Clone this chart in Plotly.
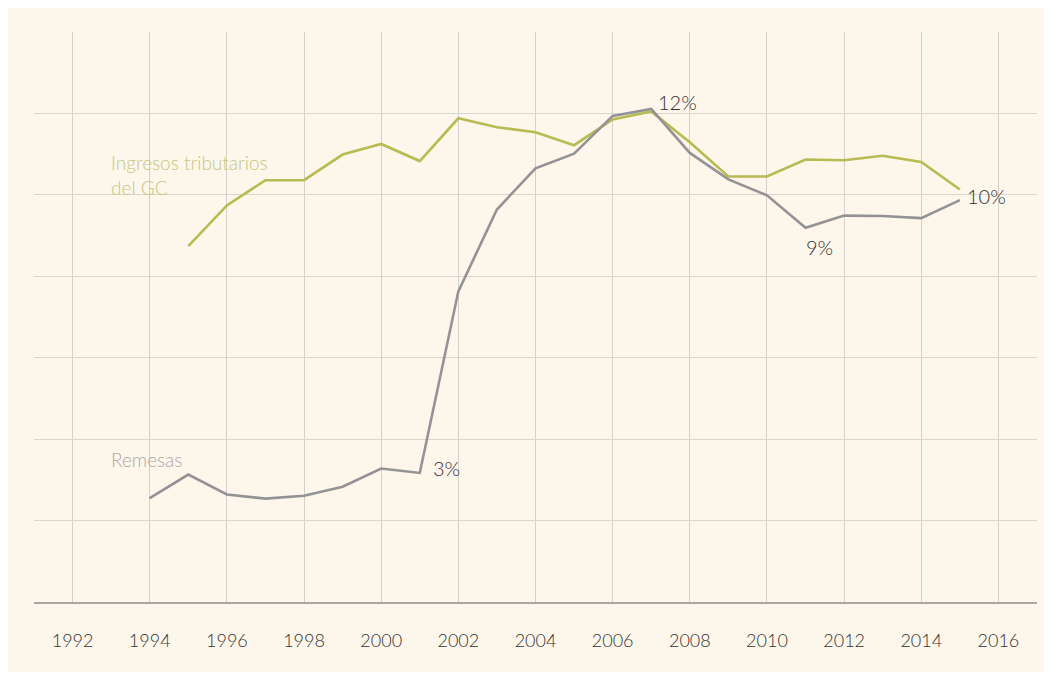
import plotly.graph_objects as go

# data (% of GDP)
years_rem = list(range(1994, 2016))
remesas = [2.55, 3.13, 2.64, 2.54, 2.61, 2.83, 3.28, 3.17, 7.63, 9.64, 10.65,
           11.01, 11.94, 12.11, 11.03, 10.38, 9.99, 9.19, 9.49, 9.48, 9.43, 9.87]

years_ing = list(range(1995, 2016))
ingresos = [8.74, 9.74, 10.36, 10.36, 10.99, 11.25, 10.83, 11.88, 11.66, 11.54,
            11.22, 11.85, 12.05, 11.29, 10.45, 10.45, 10.87, 10.85, 10.96, 10.81, 10.13]

tick_years = list(range(1992, 2017, 2))
grid_y = [2, 4, 6, 8, 10, 12]

bg = "#fdf6eb"
olive = "#b8bb52"
gray = "#939396"
txt = "#333333"
font_fam = "Lato, 'Open Sans', sans-serif"

fig = go.Figure()

fig.add_trace(go.Scatter(x=years_ing, y=ingresos, mode="lines",
                         line=dict(color=olive, width=2.6),
                         name="Ingresos tributarios del GC", hoverinfo="x+y"))
fig.add_trace(go.Scatter(x=years_rem, y=remesas, mode="lines",
                         line=dict(color=gray, width=2.6),
                         name="Remesas", hoverinfo="x+y"))

# series labels
fig.add_annotation(x=1992.94, y=10.5, text="Ingresos tributarios<br>del GC",
                   showarrow=False, xanchor="left", yanchor="middle", align="left",
                   font=dict(family=font_fam, size=19, color="#c6c77e", weight=300))
fig.add_annotation(x=1992.94, y=3.51, text="Remesas",
                   showarrow=False, xanchor="left", yanchor="middle",
                   font=dict(family=font_fam, size=19, color="#a9a9aa", weight=300))

# value labels
for xv, yv, t in [(2007.68, 12.27, "12%"), (2015.69, 9.96, "10%"),
                  (2011.36, 8.71, "9%"), (2001.7, 3.29, "3%")]:
    fig.add_annotation(x=xv, y=yv, text=t, showarrow=False,
                       xanchor="center", yanchor="middle",
                       font=dict(family=font_fam, size=20, color=txt, weight=300))

fig.update_xaxes(range=[1991, 2017], tickvals=tick_years,
                 showgrid=True, gridcolor="#d3d1cc", gridwidth=1,
                 showline=True, linecolor="#a8a7a4", linewidth=1.5,
                 zeroline=False, ticks="", ticklabelstandoff=22,
                 tickfont=dict(family=font_fam, size=18, color=txt, weight=300))
fig.update_yaxes(range=[0, 14], tickvals=grid_y, showticklabels=False,
                 showgrid=True, gridcolor="#d9d6d0", gridwidth=1.2,
                 zeroline=False, showline=False)

fig.update_layout(width=1044, height=664,
                  margin=dict(l=26, r=15, t=24, b=70),
                  paper_bgcolor=bg, plot_bgcolor=bg,
                  showlegend=False)

fig.write_html("out.html")
